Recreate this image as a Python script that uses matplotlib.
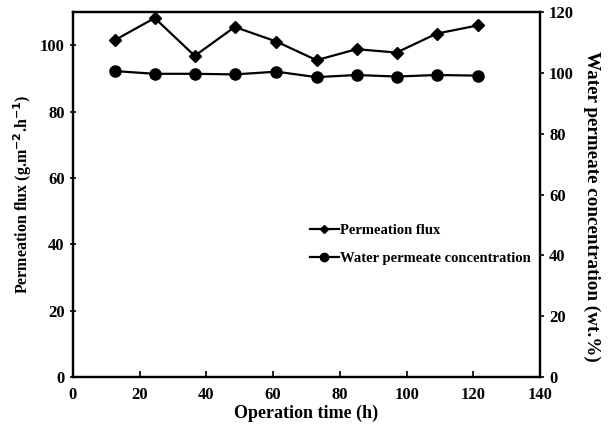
import matplotlib
matplotlib.use("Agg")
from matplotlib import pyplot as plt
from matplotlib.lines import Line2D

plt.rcParams['font.family'] = ['Liberation Serif', 'DejaVu Serif']
plt.rcParams['font.weight'] = 'bold'

time_h = [12.5, 24.5, 36.5, 48.5, 61, 73, 85, 97, 109, 121.5]
flux = [101.5, 108.2, 96.8, 105.5, 101.1, 95.5, 98.8, 97.8, 103.5, 106.0]
water_conc = [100.6, 99.7, 99.7, 99.5, 100.4, 98.6, 99.3, 98.8, 99.3, 99.1]

fig = plt.figure(figsize=(6.13, 4.30), dpi=100)
ax1 = fig.add_axes([0.119, 0.123, 0.762, 0.849])
ax2 = ax1.twinx()

ax1.plot(time_h, flux, color='black', lw=1.6, marker='D', ms=6)
ax2.plot(time_h, water_conc, color='black', lw=1.6, marker='o', ms=8)

ax1.set_xlim(0, 140)
ax1.set_ylim(0, 110)
ax2.set_ylim(0, 120)
ax1.set_xticks(range(0, 141, 20))
ax1.set_yticks(range(0, 101, 20))
ax2.set_yticks(range(0, 121, 20))

for a in (ax1, ax2):
    for s in a.spines.values():
        s.set_linewidth(1.6)
    a.tick_params(labelsize=12, width=1.2, length=5)
ax1.tick_params(axis='y', direction='inout')
ax1.tick_params(axis='x', direction='in', length=4, pad=7)
ax2.tick_params(axis='y', direction='out', length=3)

ax1.set_xlabel("Operation time (h)", fontsize=13, fontweight='bold', labelpad=1)
ax1.set_ylabel("Permeation flux (g.m$^{-2}$.h$^{-1}$)", fontsize=11.5, fontweight='bold')
ax2.set_ylabel("Water permeate concentration (wt.%)", fontsize=13.8, fontweight='bold',
               rotation=270, va='center')
ax2.yaxis.set_label_coords(1.111, 0.468)

handles = [Line2D([], [], color='black', lw=1.6, marker='D', ms=4),
           Line2D([], [], color='black', lw=1.6, marker='o', ms=6)]
ax1.legend(handles, ["Permeation flux", "Water permeate concentration"],
           loc='upper left', bbox_to_anchor=(0.479, 0.455), frameon=False,
           fontsize=10.5, handlelength=2.0, handletextpad=0.1, labelspacing=1.0)

fig.savefig("out.png", dpi=100)
